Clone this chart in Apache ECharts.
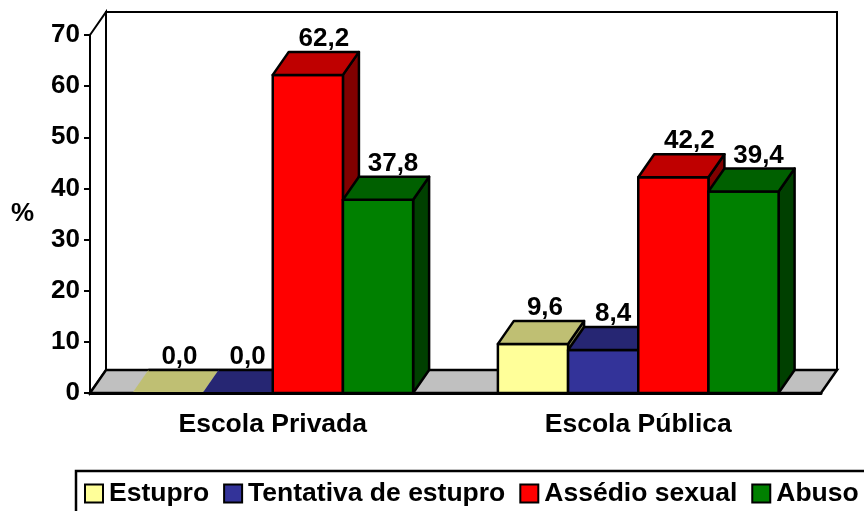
<!DOCTYPE html>
<html>
<head>
<meta charset="utf-8">
<style>
    html, body { margin: 0; padding: 0; background: #fff; }
    #chart { width: 864px; height: 511px; }
</style>
<script src="https://cdn.jsdelivr.net/npm/echarts@6/dist/echarts.min.js"></script>
</head>
<body>
<div id="chart"></div>
<script>
    const categories = ['Escola Privada', 'Escola Pública'];
    const estupro = [0.0, 9.6];
    const tentativa = [0.0, 8.4];
    const assedio = [62.2, 42.2];
    const abuso = [37.8, 39.4];
    const yTicks = [0, 70, 10];

    const FONT = '"Liberation Sans", Arial, sans-serif';
    const DX = 16, DY = -23;
    const BAR_RATIO = 0.192;

    function wall(params, api) {
        const c = params.coordSys;
        const l = c.x, r = c.x + c.width, t = c.y, b = c.y + c.height;
        const poly = (points, fill, width) => ({ type: 'polygon', shape: { points: points }, style: { fill: fill, stroke: '#000', lineWidth: width } });
        return {
            type: 'group',
            children: [
                poly([[l + DX, t + DY], [r + DX, t + DY], [r + DX, b + DY], [l + DX, b + DY]], '#fff', 2),
                poly([[l, t], [l + DX, t + DY], [l + DX, b + DY], [l, b]], '#fff', 2),
                poly([[l, b], [l + DX, b + DY], [r + DX, b + DY], [r, b]], '#c0c0c0', 2.5)
            ]
        };
    }

    function box(index, front, top, side, labelShift) {
        return function (params, api) {
            const cat = api.value(0), val = api.value(1);
            const base = api.coord([cat, 0]);
            const high = api.coord([cat, val]);
            const w = api.size([1, 0])[0] * BAR_RATIO;
            const x0 = base[0] + (index - 2) * w, x1 = x0 + w;
            const y0 = base[1], y1 = high[1];
            const edge = val === 0 ? { lineWidth: 0 } : { stroke: '#000', lineWidth: 2.5, lineJoin: 'round' };
            const poly = (points, fill) => ({ type: 'polygon', shape: { points: points }, style: Object.assign({ fill: fill }, edge) });
            const children = [];
            if (val > 0) {
                children.push(poly([[x1, y0], [x1 + DX, y0 + DY], [x1 + DX, y1 + DY], [x1, y1]], side));
                children.push(poly([[x0, y0], [x1, y0], [x1, y1], [x0, y1]], front));
            }
            children.push(poly([[x0, y1], [x0 + DX, y1 + DY], [x1 + DX, y1 + DY], [x1, y1]], top));
            if (val === 0) {
                // empty bar: the floor's back line still shows over it
                children.push({
                    type: 'line',
                    shape: { x1: x0 + DX, y1: y1 + DY, x2: x1 + DX, y2: y1 + DY },
                    style: { stroke: '#000', lineWidth: 2.5 }
                });
            }
            children.push({
                type: 'text',
                z2: 10,
                style: {
                    x: (x0 + x1) / 2 + labelShift,
                    y: y1 + DY - 13,
                    text: val.toFixed(1).replace('.', ','),
                    font: 'bold 26px ' + FONT,
                    fill: '#000',
                    align: 'center',
                    verticalAlign: 'middle'
                }
            });
            return { type: 'group', children: children };
        };
    }

    function barSeries(name, values, index, front, top, side, labelShift) {
        return {
            name: name,
            type: 'custom',
            z: 3,
            clip: false,
            itemStyle: { color: front },
            renderItem: box(index, front, top, side, labelShift),
            encode: { x: 0, y: 1 },
            data: values.map((v, i) => [i, v])
        };
    }

    const legendItem = (name, color) => ({
        name: name,
        icon: 'rect',
        itemStyle: { color: color, borderColor: '#000', borderWidth: 2 }
    });

    const myChart = echarts.init(document.getElementById('chart'));
    myChart.setOption({
        animation: false,
        backgroundColor: '#fff',
        textStyle: { fontFamily: FONT },
        grid: { left: 90, right: 43, top: 35, bottom: 118 },
        legend: {
            left: 76,
            top: 471,
            width: 900,
            orient: 'horizontal',
            selectedMode: false,
            itemWidth: 18,
            itemHeight: 18,
            itemGap: 14,
            padding: [9, 60, 40, 8],
            backgroundColor: '#fff',
            borderColor: '#000',
            borderWidth: 2.5,
            borderRadius: 0,
            textStyle: { fontSize: 26.5, fontWeight: 'bold', color: '#000', fontFamily: FONT, padding: [0, 0, 0, 1] },
            data: [
                legendItem('Estupro', '#ffff99'),
                legendItem('Tentativa de estupro', '#333399'),
                legendItem('Assédio sexual', '#ff0000'),
                legendItem('Abuso', '#008000')
            ]
        },
        xAxis: {
            type: 'category',
            z: 5,
            data: categories,
            axisLine: { lineStyle: { color: '#000', width: 3 } },
            axisTick: { length: 7, lineStyle: { color: '#000', width: 2 } },
            axisLabel: { color: '#000', fontSize: 26.5, fontWeight: 'bold', fontFamily: FONT, margin: 18 }
        },
        yAxis: {
            type: 'value',
            min: yTicks[0],
            max: yTicks[1],
            interval: yTicks[2],
            name: '%',
            nameLocation: 'middle',
            nameRotate: 0,
            nameGap: 56,
            nameTextStyle: { color: '#000', fontSize: 26, fontWeight: 'bold', fontFamily: FONT, padding: [6, 0, 0, 0] },
            splitLine: { show: false },
            axisLine: { show: true, lineStyle: { color: '#000', width: 3 } },
            axisTick: { show: true, length: 6, lineStyle: { color: '#000', width: 2 } },
            axisLabel: { color: '#000', fontSize: 26, fontWeight: 'bold', fontFamily: FONT, margin: 10, padding: [3, 0, 0, 0] }
        },
        series: [
            { name: 'wall', type: 'custom', z: 1, clip: false, renderItem: wall, data: [[0, 0]], encode: { x: 0, y: 1 } },
            barSeries('Estupro', estupro, 0, '#ffff99', '#bfbf73', '#80804d', 12),
            barSeries('Tentativa de estupro', tentativa, 1, '#333399', '#262673', '#1a1a4d', 10),
            barSeries('Assédio sexual', assedio, 2, '#ff0000', '#bf0000', '#800000', 16),
            barSeries('Abuso', abuso, 3, '#008000', '#006000', '#004000', 15)
        ]
    });
</script>
</body>
</html>
